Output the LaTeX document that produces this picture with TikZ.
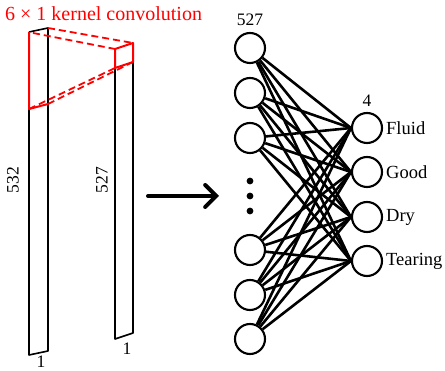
\documentclass[tikz,border=0pt]{standalone}
\usepackage{fontspec}
\setmainfont{Liberation Serif}
\usetikzlibrary{arrows.meta}
\begin{document}
\begin{tikzpicture}[x=1pt,y=-1pt,
  neuron/.style={circle,draw,line width=2.1pt,minimum size=30pt,inner sep=0pt,fill=white},
  link/.style={line width=2.6pt},
  colline/.style={line width=1.6pt,line join=round},
  kern/.style={red,line width=2pt,line join=round},
  kerndash/.style={red,line width=1.8pt,dash pattern=on 7pt off 4pt},
  lab/.style={font=\fontsize{17.5}{17.5}\selectfont,inner sep=0pt},
  wlab/.style={font=\fontsize{18.5}{18.5}\selectfont,inner sep=0pt,anchor=west},
  tlab/.style={font=\fontsize{20}{20}\selectfont,inner sep=0pt,anchor=west}]
\useasboundingbox (0,0) rectangle (445,371);
% title
\node[tlab,text=red] (title) at (5,14) {6 × 1 kernel convolution};
% left column
\draw[colline] (29,109) -- (29,355) -- (48,351) -- (48,28) -- (29,32);
\draw[kern] (29,32) -- (29,109) -- (48,104);
% right column
\draw[colline] (115,68) -- (115,339) -- (133,333) -- (133,62);
\draw[kern] (115,49) -- (133,43) -- (133,62) -- (115,68) -- cycle;
% kernel dashed edges
\draw[kerndash] (48,28) -- (133,43);
\draw[kerndash] (33,33) -- (115,49);
\draw[kerndash] (29,109) -- (115,68);
\draw[kerndash] (48,104) -- (133,62);
% column labels
\node[lab,rotate=90] (l532) at (13,180) {532};
\node[lab,rotate=90] (l527) at (102,180) {527};
\node[lab] (b1) at (41,362) {1};
\node[lab] (b2) at (127,349) {1};
% arrow
\coordinate (as) at (148,196);
\coordinate (ae) at (219,196);
\draw[line width=4pt,line cap=round,-{Straight Barb[length=11pt,width=22pt,line cap=round]}] (as) -- (ae);
% network
\foreach \n/\y in {i1/48,i2/93,i3/138,i4/250,i5/295,i6/339}
  \node[neuron] (\n) at (250,\y) {};
\foreach \n/\y in {o1/128,o2/172,o3/217,o4/261}
  \node[neuron] (\n) at (367,\y) {};
\foreach \i in {i1,i2,i3,i4,i5,i6}
  \foreach \o in {o1,o2,o3,o4}
    \draw[link] (\i) -- (\o.west);
\fill (250,181) circle (3.4pt);
\fill (250,196) circle (3.4pt);
\fill (250,211) circle (3.4pt);
\node[lab] (n527) at (250,20) {527};
\node[lab] (n4) at (367,101) {4};
\node[wlab] (t1) at (386,128) {Fluid};
\node[wlab] (t2) at (386,172) {Good};
\node[wlab] (t3) at (386,217) {Dry};
\node[wlab] (t4) at (386,261) {Tearing};
\end{tikzpicture}
\end{document}
